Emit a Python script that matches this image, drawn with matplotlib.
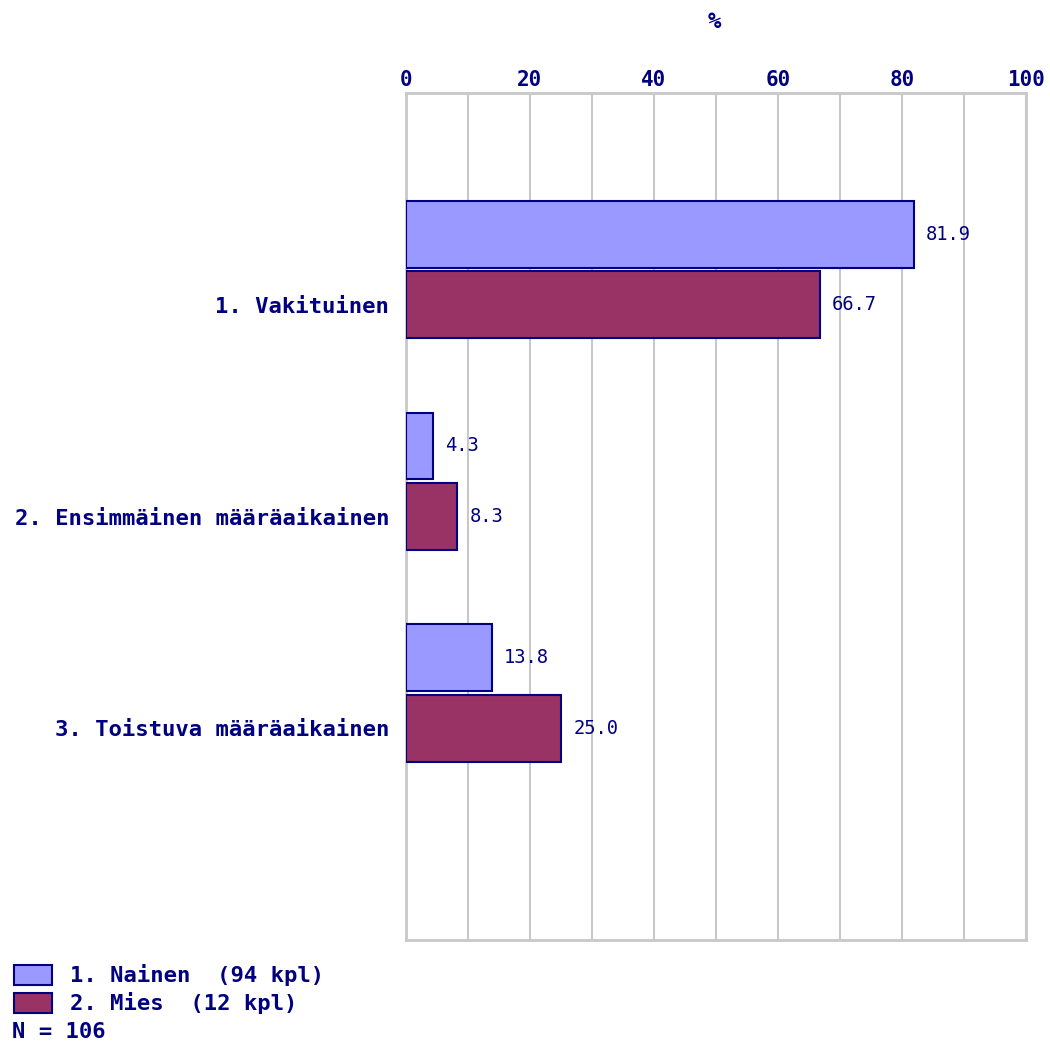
import matplotlib
matplotlib.use("Agg")
import matplotlib.pyplot as plt
from matplotlib.patches import Rectangle
import numpy as np

categories = ["1. Vakituinen", "2. Ensimmäinen määräaikainen", "3. Toistuva määräaikainen"]
series_names = ["1. Nainen  (94 kpl)", "2. Mies  (12 kpl)"]
nainen = [81.9, 4.3, 13.8]
mies = [66.7, 8.3, 25.0]
xticks = [0, 20, 40, 60, 80, 100]
n_total = "N = 106"

NAVY = "#000080"
C1 = "#9999FF"
C2 = "#993366"
GRID = "#C8C8C8"
MONO = "DejaVu Sans Mono"

W, H = 1050, 1045
fig = plt.figure(figsize=(W / 100, H / 100), dpi=100)
ax = fig.add_axes([406 / W, 1 - 940 / H, 620 / W, 847 / H])

y = np.arange(len(categories))
bh = 0.316
off = 0.333
ax.barh(y - off, nainen, height=bh, color=C1, edgecolor=NAVY, linewidth=1.5, zorder=3)
ax.barh(y, mies, height=bh, color=C2, edgecolor=NAVY, linewidth=1.5, zorder=3)

for yi, v in zip(y - off, nainen):
    ax.text(v + 2.0, yi, f"{v:.1f}", va="center", ha="left", color=NAVY,
            family=MONO, fontsize=13.5)
for yi, v in zip(y, mies):
    ax.text(v + 2.0, yi, f"{v:.1f}", va="center", ha="left", color=NAVY,
            family=MONO, fontsize=13.5)

ax.set_xlim(0, 100)
ax.set_ylim(3, -1)
ax.xaxis.tick_top()
ax.set_xticks(xticks)
ax.set_xticks(np.arange(0, 101, 10), minor=True)
ax.grid(axis="x", which="both", color=GRID, linewidth=1.5, zorder=0)
ax.tick_params(axis="x", which="both", length=0, pad=2, labelsize=15,
               labelcolor=NAVY)
for lab in ax.get_xticklabels():
    lab.set_family(MONO)
    lab.set_fontweight("bold")
ax.set_yticks(y)
ax.set_yticklabels(categories, family=MONO, fontweight="bold", fontsize=16,
                   color=NAVY)
ax.tick_params(axis="y", length=0, pad=12)
for s in ax.spines.values():
    s.set_color(GRID)
    s.set_linewidth(2)

fig.text(714 / W, 1 - 22 / H, "%", ha="center", va="center", color=NAVY,
         family=MONO, fontweight="bold", fontsize=16)

# legend
colors = [C1, C2]
tops = [965, 993]
for name, c, t in zip(series_names, colors, tops):
    fig.add_artist(Rectangle((14 / W, 1 - (t + 20) / H), 38 / W, 20 / H,
                             transform=fig.transFigure, facecolor=c,
                             edgecolor=NAVY, linewidth=1.5))
    fig.text(70 / W, 1 - (t + 10) / H, name, ha="left", va="center",
             color=NAVY, family=MONO, fontweight="bold", fontsize=16)
fig.text(12 / W, 1 - 1032 / H, n_total, ha="left", va="center", color=NAVY,
         family=MONO, fontweight="bold", fontsize=16)

fig.savefig("out.png", dpi=100, facecolor="white")
